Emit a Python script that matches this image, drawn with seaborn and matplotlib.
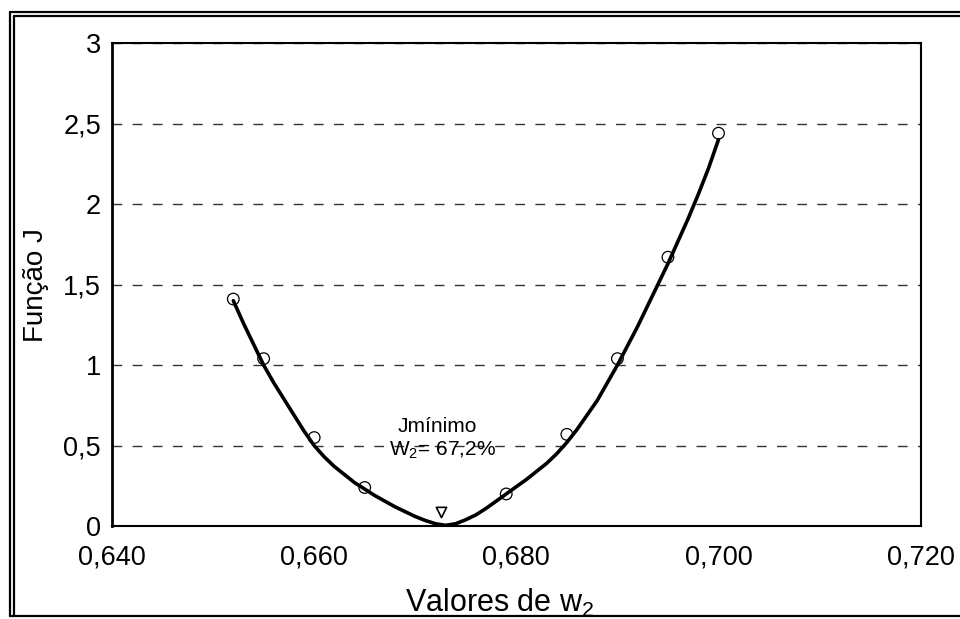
import numpy as np
import pandas as pd
import matplotlib
matplotlib.use("Agg")
import matplotlib.pyplot as plt
import seaborn as sns
from matplotlib.lines import Line2D
from matplotlib.ticker import MultipleLocator, FuncFormatter

# ------------------ DATA ------------------
# measured points (open circles)
w2_points = [0.652, 0.655, 0.660, 0.665, 0.679, 0.685, 0.690, 0.695, 0.700]
j_points = [1.41, 1.04, 0.55, 0.24, 0.20, 0.57, 1.04, 1.67, 2.44]

# fitted curve
w2_curve = [0.652, 0.653, 0.654, 0.655, 0.656, 0.657, 0.658, 0.659, 0.660,
            0.661, 0.662, 0.663, 0.664, 0.665, 0.666, 0.667, 0.668, 0.669,
            0.670, 0.671, 0.672, 0.673, 0.674, 0.675, 0.676, 0.677, 0.678,
            0.679, 0.680, 0.681, 0.682, 0.683, 0.684, 0.685, 0.686, 0.687,
            0.688, 0.689, 0.690, 0.691, 0.692, 0.693, 0.694, 0.695, 0.696,
            0.697, 0.698, 0.699, 0.700]
j_curve = [1.40, 1.26, 1.13, 1.00, 0.89, 0.79, 0.69, 0.59, 0.50,
           0.43, 0.37, 0.32, 0.27, 0.23, 0.19, 0.155, 0.12, 0.09,
           0.06, 0.035, 0.015, 0.005, 0.015, 0.04, 0.07, 0.11, 0.155,
           0.20, 0.245, 0.29, 0.34, 0.39, 0.45, 0.52, 0.60, 0.69,
           0.78, 0.89, 1.00, 1.12, 1.24, 1.37, 1.50, 1.63, 1.77,
           1.91, 2.06, 2.22, 2.40]

# minimum marker
w2_min = [0.6725]
j_min = [0.085]

df_pts = pd.DataFrame({"w2": w2_points, "J": j_points})
df_curve = pd.DataFrame({"w2": w2_curve, "J": j_curve})

# ------------------ STYLE ------------------
sns.set_style("white")
plt.rcParams['font.family'] = ['Liberation Sans', 'DejaVu Sans']
plt.rcParams['mathtext.fontset'] = 'custom'
plt.rcParams['mathtext.rm'] = 'Liberation Sans'
plt.rcParams['mathtext.it'] = 'Liberation Sans'
for key in ['text.color', 'axes.labelcolor', 'xtick.color', 'ytick.color']:
    plt.rcParams[key] = 'black'

fig = plt.figure(figsize=(9.6, 6.19), dpi=100)
ax = fig.add_axes([0.1167, 0.150, 0.8423, 0.7805])

# ------------------ PLOT ------------------
sns.lineplot(data=df_curve, x="w2", y="J", ax=ax, color="black",
             linewidth=2.6, sort=False, zorder=3)
sns.scatterplot(data=df_pts, x="w2", y="J", ax=ax, marker="o", s=70,
                facecolor="none", edgecolor="black", linewidth=0.9, zorder=4)
ax.scatter(w2_min, j_min, marker="v", s=55, facecolor="white",
           edgecolor="black", linewidth=1.2, zorder=5)

ax.text(0.6722, 0.62, "Jmínimo", ha="center", va="center", fontsize=15)
ax.text(0.6727, 0.47, "W$_2$= 67,2%", ha="center", va="center", fontsize=15)

# ------------------ AXES ------------------
ax.set_xlim(0.640, 0.720)
ax.set_ylim(0, 3)
ax.xaxis.set_major_locator(MultipleLocator(0.020))
ax.xaxis.set_minor_locator(MultipleLocator(0.010))
ax.yaxis.set_major_locator(MultipleLocator(0.5))
ax.yaxis.set_minor_locator(MultipleLocator(0.25))
ax.xaxis.set_major_formatter(FuncFormatter(lambda v, p: f"{v:.3f}".replace(".", ",")))
ax.yaxis.set_major_formatter(FuncFormatter(lambda v, p: f"{v:g}".replace(".", ",")))

ax.tick_params(axis="both", which="both", direction="in", labelsize=19.5)
ax.tick_params(axis="x", which="major", length=8, width=1, pad=13)
ax.tick_params(axis="x", which="minor", length=4, width=1)
ax.tick_params(axis="y", which="major", length=0, pad=8)
ax.tick_params(axis="y", which="minor", length=5, width=1)

ax.yaxis.grid(True, which="major", linestyle=(0, (7, 7.5)), color="#333333",
              linewidth=1.0)
ax.set_axisbelow(True)

for side, sp in ax.spines.items():
    sp.set_color("black")
    sp.set_linewidth(1.5)
ax.spines["left"].set_linewidth(2)

ax.set_xlabel("Valores de w$_2$", fontsize=22, labelpad=12)
ax.xaxis.set_label_coords(0.480, -0.126)
ax.set_ylabel("Função J", fontsize=20, labelpad=10)

# ------------------ OUTER FRAME ------------------
W, H = 960, 619
def fx(px): return px / W
def fy(py): return 1 - py / H

for lx in [10, 14]:
    fig.add_artist(Line2D([fx(lx), fx(lx)], [fy(12 if lx == 10 else 16), fy(616)],
                          color="black", linewidth=1.6))
for ly in [12, 16]:
    fig.add_artist(Line2D([fx(10 if ly == 12 else 14), 1.0], [fy(ly), fy(ly)],
                          color="black", linewidth=1.6))
fig.add_artist(Line2D([fx(10), 1.0], [fy(616), fy(616)], color="black",
                      linewidth=1.6))

fig.savefig("out.png", dpi=100)
